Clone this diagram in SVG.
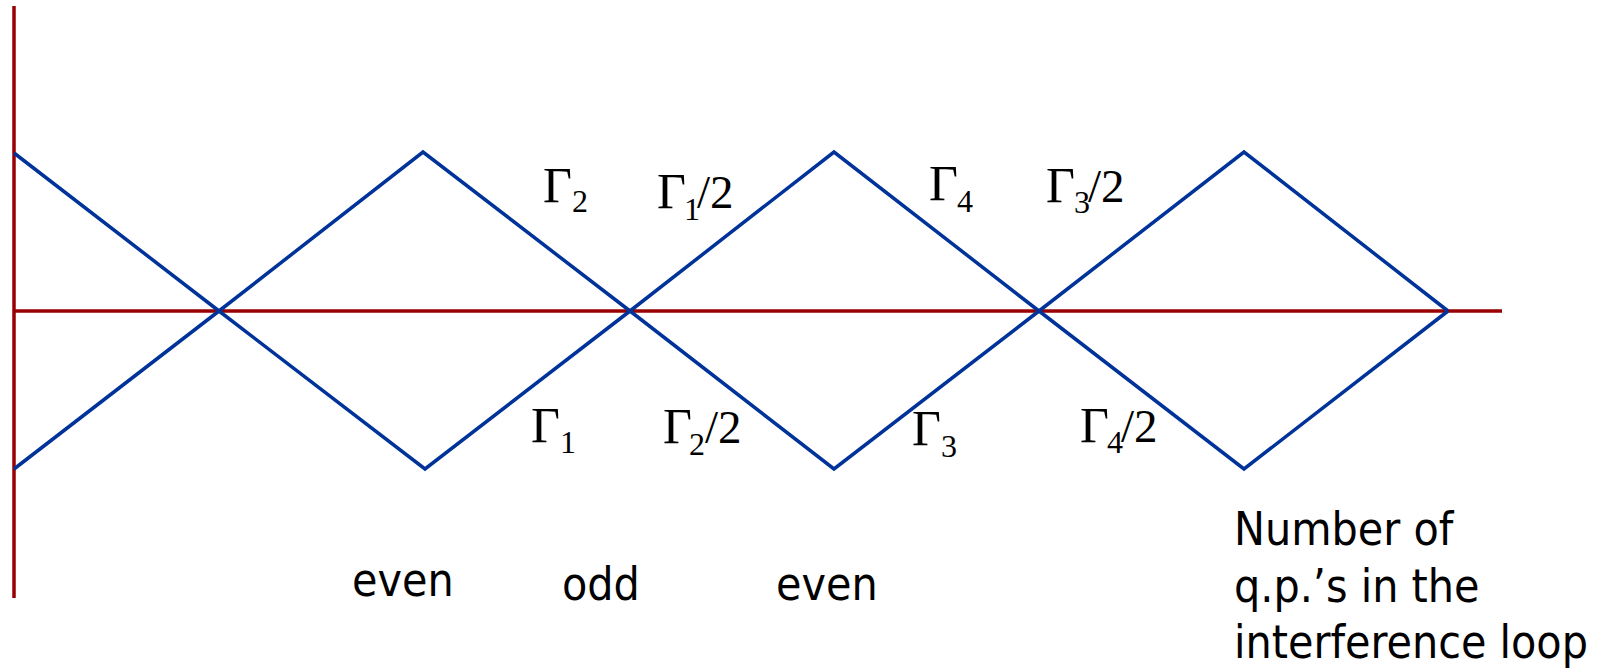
<svg xmlns="http://www.w3.org/2000/svg" width="1608" height="671" viewBox="0 0 1608 671">
<style>
.axis{stroke:#990000;stroke-width:3.5;fill:none}
.wave{stroke:#003399;stroke-width:3.5;fill:none;stroke-linejoin:miter}
.g{font-family:"Liberation Serif","Times New Roman",serif;font-size:47px;fill:#000}
.G{font-size:50px}
.s{font-size:32px}
.t{font-family:"DejaVu Sans Condensed","DejaVu Sans",sans-serif;font-size:46px;fill:#000}
</style>
<rect width="1608" height="671" fill="#fff"/>
<g id="axes">
<line class="axis" x1="14" y1="6" x2="14" y2="598"/>
<line class="axis" x1="14" y1="311" x2="1502" y2="311"/>
</g>
<g id="curves">
<polyline class="wave" points="14,153 219,311 425,469 630,311 834,152 1039,311 1244,469 1448,311"/>
<polyline class="wave" points="14,469 219,311 423,152 630,311 834,469 1039,311 1244,152 1448,311"/>
</g>
<g id="gamma-labels" class="g">
<text id="l-g2"><tspan class="G" x="543" y="202">Γ</tspan><tspan class="s" x="572" y="212">2</tspan></text>
<text id="l-g1h"><tspan class="G" x="657" y="208">Γ</tspan><tspan class="s" x="684" y="220">1</tspan><tspan x="697" y="208">/2</tspan></text>
<text id="l-g1"><tspan class="G" x="531" y="442">Γ</tspan><tspan class="s" x="560" y="453">1</tspan></text>
<text id="l-g2h"><tspan class="G" x="663" y="443">Γ</tspan><tspan class="s" x="689" y="455">2</tspan><tspan x="705" y="443">/2</tspan></text>
<text id="l-g4"><tspan class="G" x="929" y="200">Γ</tspan><tspan class="s" x="957" y="212">4</tspan></text>
<text id="l-g3h"><tspan class="G" x="1046" y="202">Γ</tspan><tspan class="s" x="1074" y="213">3</tspan><tspan x="1088" y="202">/2</tspan></text>
<text id="l-g3"><tspan class="G" x="912" y="445">Γ</tspan><tspan class="s" x="941" y="457">3</tspan></text>
<text id="l-g4h"><tspan class="G" x="1080" y="442">Γ</tspan><tspan class="s" x="1107" y="453">4</tspan><tspan x="1121" y="442">/2</tspan></text>
</g>
<g id="parity-labels" class="t">
<text x="352" y="596">even</text>
<text x="562" y="600">odd</text>
<text x="776" y="600">even</text>
</g>
<g id="axis-label" class="t">
<text x="1234" y="545">Number of</text>
<text x="1234" y="602">q.p.’s in the</text>
<text x="1234" y="658">interference loop</text>
</g>
</svg>
